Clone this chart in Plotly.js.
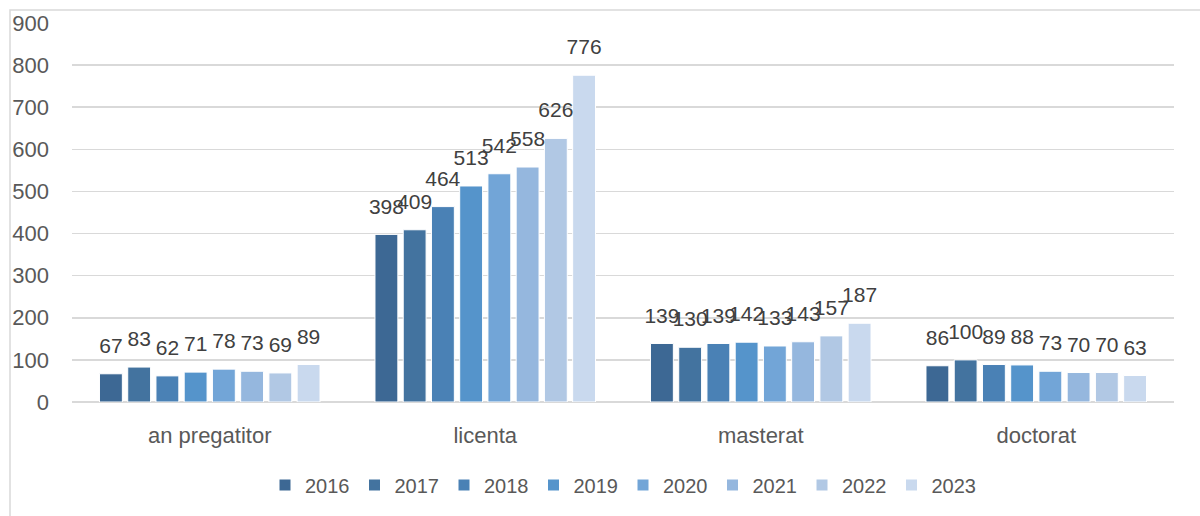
<!DOCTYPE html>
<html>
<head>
<meta charset="utf-8">
<script src="https://cdn.plot.ly/plotly-3.0.1.min.js"></script>
<style>
html,body{margin:0;padding:0;background:#fff;}
#chart{width:1200px;height:516px;}
</style>
</head>
<body>
<div id="chart"></div>
<script>
const categories = ["an pregatitor", "licenta", "masterat", "doctorat"];
const years = ["2016", "2017", "2018", "2019", "2020", "2021", "2022", "2023"];
const v2016 = [67, 398, 139, 86];
const v2017 = [83, 409, 130, 100];
const v2018 = [62, 464, 139, 89];
const v2019 = [71, 513, 142, 88];
const v2020 = [78, 542, 133, 73];
const v2021 = [73, 558, 143, 70];
const v2022 = [69, 626, 157, 70];
const v2023 = [89, 776, 187, 63];
const yTicks = [0, 100, 200, 300, 400, 500, 600, 700, 800, 900];

const seriesValues = [v2016, v2017, v2018, v2019, v2020, v2021, v2022, v2023];
const colors = ["#3d6894", "#43739f", "#4a81b5", "#5594cb", "#72a5d7", "#95b7de", "#b1c8e4", "#c9d9ee"];

const FONT = "Liberation Sans, Arial, sans-serif";
const LABEL_GAP = 33; // vertical spacing (axis units) between bar top and its value label

const barTraces = years.map((y, i) => ({
  type: "bar",
  name: y,
  x: categories,
  y: seriesValues[i],
  offsetgroup: y,
  marker: {color: colors[i], line: {color: "#ffffff", width: 1}},
  hoverinfo: "x+y+name"
}));

const labelTraces = years.map((y, i) => ({
  type: "bar",
  name: y + " label",
  x: categories,
  y: seriesValues[i].map(() => LABEL_GAP),
  base: seriesValues[i],
  offsetgroup: y,
  showlegend: false,
  marker: {color: "rgba(0,0,0,0)", line: {width: 0}},
  text: seriesValues[i].map(String),
  textposition: "outside",
  constraintext: "none",
  cliponaxis: false,
  textfont: {family: FONT, size: 21, color: "#404040"},
  hoverinfo: "skip"
}));

const L = 72, R = 26, T = 23, B = 114;
const pw = 1200 - L - R, ph = 516 - T - B;

const layout = {
  width: 1200, height: 516,
  margin: {l: L, r: R, t: T, b: B, pad: 0},
  paper_bgcolor: "#ffffff",
  plot_bgcolor: "#ffffff",
  barmode: "group",
  bargap: 0.18,
  bargroupgap: 0.19,
  font: {family: FONT, color: "#595959", size: 22},
  xaxis: {
    type: "category",
    showgrid: false,
    showline: false,
    zeroline: false,
    ticks: "",
    ticklabelstandoff: 18,
    tickfont: {size: 22, color: "#595959"}
  },
  yaxis: {
    range: [0, 900],
    tickvals: yTicks,
    ticktext: yTicks.map(String),
    showgrid: true,
    gridcolor: "#d9d9d9",
    gridwidth: 1.5,
    zeroline: true,
    zerolinecolor: "#d9d9d9",
    zerolinewidth: 1.5,
    showline: false,
    ticks: "",
    ticklabelstandoff: 22,
    tickfont: {size: 22, color: "#595959"}
  },
  legend: {
    orientation: "h",
    x: 0.5, xanchor: "center",
    y: (402 - 485) / ph, yanchor: "middle",
    font: {family: FONT, size: 20, color: "#595959"},
    itemwidth: 30,
    traceorder: "normal"
  },
  showlegend: true,
  shapes: [{
    type: "rect", xref: "paper", yref: "paper",
    x0: (10 - L) / pw, x1: (1230 - L) / pw,
    y0: (402 - 540) / ph, y1: 1 + (T - 10) / ph,
    line: {color: "#d9d9d9", width: 1.5},
    fillcolor: "rgba(0,0,0,0)",
    layer: "below"
  }]
};

Plotly.newPlot("chart", barTraces.concat(labelTraces), layout, {displayModeBar: false, staticPlot: true});
</script>
</body>
</html>
